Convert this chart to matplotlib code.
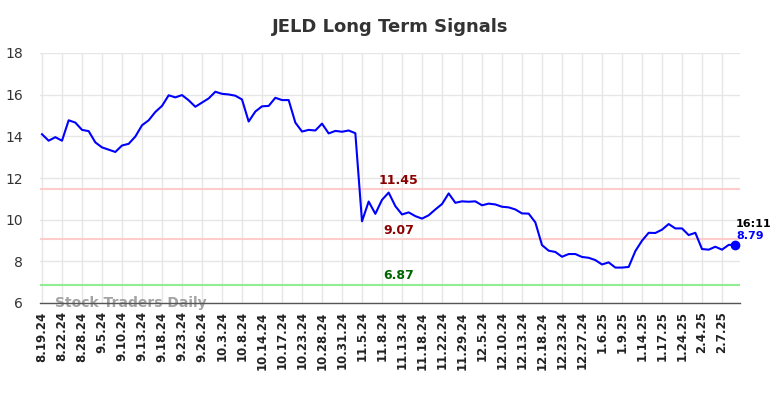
import matplotlib
matplotlib.use("Agg")
import matplotlib.pyplot as plt

title = "JELD Long Term Signals"
tick_labels = ["8.19.24", "8.22.24", "8.28.24", "9.5.24", "9.10.24", "9.13.24", "9.18.24",
               "9.23.24", "9.26.24", "10.3.24", "10.8.24", "10.14.24", "10.17.24", "10.23.24",
               "10.28.24", "10.31.24", "11.5.24", "11.8.24", "11.13.24", "11.18.24", "11.22.24",
               "11.29.24", "12.5.24", "12.10.24", "12.13.24", "12.18.24", "12.23.24", "12.27.24",
               "1.6.25", "1.9.25", "1.14.25", "1.17.25", "1.24.25", "2.4.25", "2.7.25"]
prices = [14.10, 13.79, 13.96, 13.79, 14.77, 14.66, 14.31, 14.25, 13.71, 13.47,
          13.36, 13.25, 13.56, 13.64, 13.99, 14.53, 14.77, 15.17, 15.46, 15.97,
          15.87, 15.98, 15.73, 15.42, 15.62, 15.82, 16.14, 16.04, 16.01, 15.95,
          15.77, 14.71, 15.19, 15.44, 15.46, 15.85, 15.74, 15.74, 14.66, 14.23,
          14.31, 14.28, 14.61, 14.14, 14.26, 14.22, 14.28, 14.15, 9.92, 10.87,
          10.28, 10.95, 11.30, 10.65, 10.25, 10.35, 10.17, 10.05, 10.21, 10.49,
          10.75, 11.26, 10.81, 10.88, 10.86, 10.88, 10.69, 10.77, 10.73, 10.62,
          10.59, 10.49, 10.30, 10.29, 9.87, 8.78, 8.51, 8.45, 8.22, 8.35,
          8.35, 8.21, 8.17, 8.06, 7.85, 7.95, 7.70, 7.70, 7.73, 8.49,
          8.99, 9.37, 9.36, 9.52, 9.79, 9.58, 9.58, 9.26, 9.37, 8.59,
          8.56, 8.70, 8.56, 8.79, 8.79]
levels = [11.45, 9.07, 6.87]
level_colors = ["#ffcccc", "#ffcccc", "#90ee90"]
level_text_colors = ["#8b0000", "#8b0000", "#006400"]
last_time = "16:11"

fig = plt.figure(figsize=(7.84, 3.98), dpi=100)
ax = fig.add_axes([40/784, 1 - 303/398, 700/784, 250/398])

x = list(range(len(prices)))
ax.plot(x, prices, color="blue", lw=1.5, zorder=3)
ax.plot(x[-1], prices[-1], "o", color="blue", ms=6, zorder=4)

for lv, c in zip(levels, level_colors):
    ax.axhline(lv, color=c, lw=1.5, zorder=2)

lx = 53.5
for lv, tc in zip(levels, level_text_colors):
    ax.text(lx, lv + 0.12, f"{lv:.2f}", color=tc, fontsize=9,
            fontweight="bold", ha="center", va="bottom")

ax.text(x[-1] + 0.1, prices[-1] + 0.75, last_time, color="black", fontsize=8,
        fontweight="bold", ha="left", va="bottom")
ax.text(x[-1] + 0.1, prices[-1] + 0.18, f"{prices[-1]:.2f}", color="blue", fontsize=8,
        fontweight="bold", ha="left", va="bottom")

ax.text(2, 6.0, "Stock Traders Daily", color="#999999", fontsize=10, fontweight="bold",
        ha="left", va="center", alpha=0.9, zorder=1)

ax.set_xlim(-0.3, 104.7)
ax.set_ylim(6, 18)
ax.set_yticks([6, 8, 10, 12, 14, 16, 18])
ax.set_xticks([i * 3 for i in range(len(tick_labels))])
ax.set_xticklabels(tick_labels, rotation=90, fontsize=8.5, fontweight="bold", color="#222222")
ax.tick_params(axis="y", labelsize=10, colors="#333333", length=0, pad=12)
ax.tick_params(axis="x", length=0, pad=6)
ax.grid(True, color="#e6e6e6", lw=1)
ax.set_axisbelow(True)
for s in ["top", "right", "left"]:
    ax.spines[s].set_visible(False)
ax.spines["bottom"].set_color("#555555")
ax.spines["bottom"].set_linewidth(1)
ax.spines["bottom"].set_zorder(5)

fig.text(390/784, 1 - 27/398, title, ha="center", va="center", fontsize=13,
         fontweight="bold", color="#333333")

fig.savefig("out.png", dpi=100)
